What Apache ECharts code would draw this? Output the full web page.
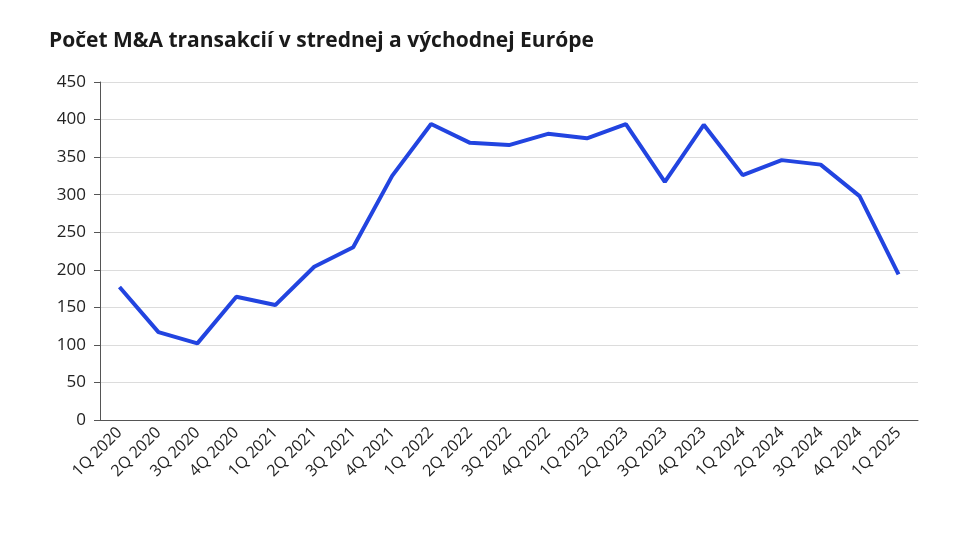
<!DOCTYPE html>
<html lang="sk">
<head>
  <meta charset="UTF-8">
  <title>Počet M&A transakcií</title>
  <script src="https://cdn.jsdelivr.net/npm/echarts@6/dist/echarts.min.js"></script>
  <style>
    html, body { margin: 0; padding: 0; background: #fff; }
    #chart { width: 960px; height: 541px; }
  </style>
</head>
<body>
  <div id="chart"></div>
  <script>
    var quarters = ['1Q 2020', '2Q 2020', '3Q 2020', '4Q 2020', '1Q 2021', '2Q 2021', '3Q 2021',
      '4Q 2021', '1Q 2022', '2Q 2022', '3Q 2022', '4Q 2022', '1Q 2023', '2Q 2023', '3Q 2023',
      '4Q 2023', '1Q 2024', '2Q 2024', '3Q 2024', '4Q 2024', '1Q 2025'];
    var dealCounts = [177, 117, 102, 164, 153, 204, 230, 325, 394, 369, 366, 381, 375, 394, 317,
      393, 326, 346, 340, 298, 194];

    var chart = echarts.init(document.getElementById('chart'));
    chart.setOption({
      animation: false,
      title: {
        text: 'Počet M&A transakcií v strednej a východnej Európe',
        left: 44, top: 26,
        textStyle: { fontFamily: 'Open Sans', fontSize: 21, fontWeight: 'bold', color: '#1a1a1a' }
      },
      grid: { left: 100, right: 42, top: 82, bottom: 121 },
      xAxis: {
        type: 'category',
        data: quarters,
        axisLine: { lineStyle: { color: '#555' } },
        axisTick: { lineStyle: { color: '#555' }, length: 6 },
        axisLabel: { rotate: 45, interval: 0, fontFamily: 'Open Sans', fontSize: 16, color: '#222', margin: 10 }
      },
      yAxis: {
        type: 'value',
        min: 0, max: 450, interval: 50,
        axisLine: { show: true, lineStyle: { color: '#555' } },
        axisTick: { show: true, lineStyle: { color: '#555' }, length: 6 },
        splitLine: { lineStyle: { color: '#dcdcdc' } },
        axisLabel: { fontFamily: 'Open Sans', fontSize: 17, color: '#222', margin: 14 }
      },
      series: [{
        type: 'line',
        data: dealCounts,
        symbol: 'none',
        lineStyle: { color: '#2244e0', width: 4 }
      }]
    });
  </script>
</body>
</html>
